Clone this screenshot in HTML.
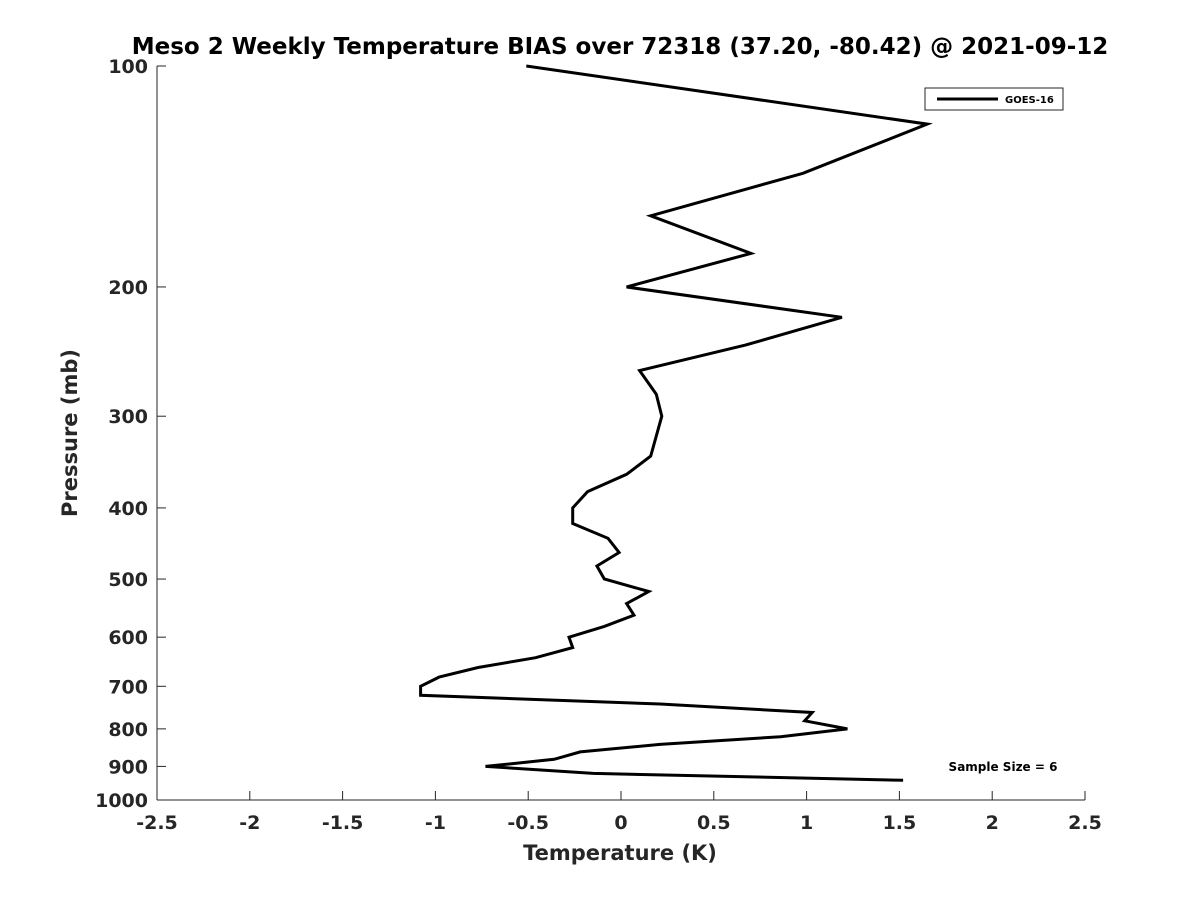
<!DOCTYPE html>
<html><head><meta charset="utf-8"><style>
body{margin:0;background:#fff;width:1200px;height:900px;overflow:hidden}
svg text{font-family:"DejaVu Sans","Liberation Sans",sans-serif;font-weight:bold;fill:#262626}
</style></head><body>
<svg width="1200" height="900">
<text x="620" y="54" text-anchor="middle" font-size="23" fill="#000" style="fill:#000">Meso 2 Weekly Temperature BIAS over 72318 (37.20, -80.42) @ 2021-09-12</text>
<g id="axes"></g>
<g id="series"></g>
<text x="620" y="860" text-anchor="middle" font-size="21">Temperature (K)</text>
<text transform="translate(77,433) rotate(-90)" text-anchor="middle" font-size="21">Pressure (mb)</text>
<g>
<rect x="925" y="88" width="138" height="22" fill="#fff" stroke="#262626" stroke-width="1"/>
<line x1="937" y1="99" x2="998" y2="99" stroke="#000" stroke-width="3"/>
<text x="1005" y="103" font-size="10" style="fill:#000">GOES-16</text>
</g>
<text x="1003" y="771" text-anchor="middle" font-size="12" style="fill:#000">Sample Size = 6</text>
</svg>
<script>
const xTicks=[-2.5,-2,-1.5,-1,-0.5,0,0.5,1,1.5,2,2.5];
const yTicks=[100,200,300,400,500,600,700,800,900,1000];
const pressures=[100,120,140,160,180,200,220,240,260,280,300,340,360,380,400,420,440,460,480,500,520,540,560,580,600,620,640,660,680,700,720,740,760,780,800,820,840,860,880,900,920,940];
const bias=[-0.51,1.65,0.98,0.16,0.70,0.03,1.19,0.67,0.10,0.19,0.22,0.16,0.03,-0.18,-0.26,-0.26,-0.07,-0.01,-0.13,-0.09,0.15,0.03,0.07,-0.09,-0.28,-0.26,-0.46,-0.77,-0.98,-1.08,-1.08,0.21,1.03,0.99,1.22,0.86,0.21,-0.22,-0.36,-0.73,-0.15,1.52];
const NS="http://www.w3.org/2000/svg";
const X0=157,X1=1085,Y0=66,Y1=800;
function xs(v){return X0+(v+2.5)/5*(X1-X0);}
function ys(p){return Y0+Math.log10(p/100)*(Y1-Y0);}
const ax=document.getElementById('axes');
function mk(tag,attrs,parent){const e=document.createElementNS(NS,tag);for(const k in attrs)e.setAttribute(k,attrs[k]);parent.appendChild(e);return e;}
const xl=mk('line',{x1:X0,y1:Y1,x2:X1,y2:Y1,stroke:'#262626','stroke-width':1},ax);


const yl=mk('line',{x1:X0,y1:Y0,x2:X0,y2:Y1,stroke:'#262626','stroke-width':1},ax);


xTicks.forEach(v=>{const x=xs(v);
mk('line',{x1:x,y1:Y1,x2:x,y2:Y1-9,stroke:'#262626'},ax);
const t=mk('text',{x:x,y:829,'text-anchor':'middle','font-size':19},ax);t.textContent=String(v);

});
yTicks.forEach(p=>{const y=ys(p);
mk('line',{x1:X0,y1:y,x2:X0+9,y2:y,stroke:'#262626'},ax);
const t=mk('text',{x:148,y:y+7,'text-anchor':'end','font-size':19},ax);t.textContent=String(p);

});
const pts=pressures.map((p,i)=>xs(bias[i]).toFixed(1)+','+ys(p).toFixed(1)).join(' ');
const pl=mk('polyline',{points:pts,fill:'none',stroke:'#000','stroke-width':3,'stroke-linejoin':'miter'},document.getElementById('series'));


</script>
</body></html>
